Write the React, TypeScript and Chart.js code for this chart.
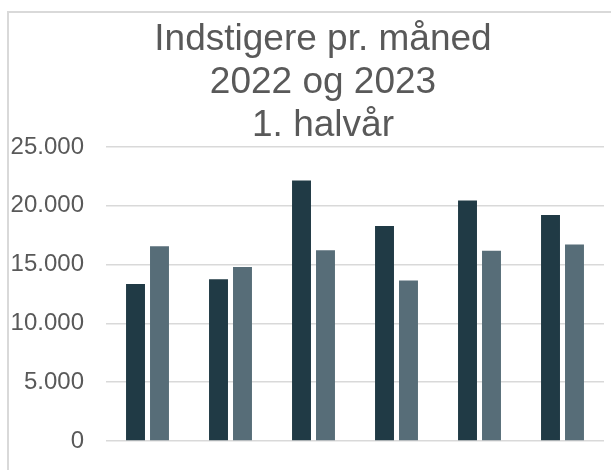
import React, { useEffect, useRef } from "react";
import { Chart, registerables } from "chart.js";

Chart.register(...registerables);

const months = ["Januar", "Februar", "Marts", "April", "Maj", "Juni"];
const values2022 = [13350, 13750, 22150, 18280, 20460, 19210];
const values2023 = [16550, 14800, 16230, 13640, 16170, 16710];
const titleLines = ["Indstigere pr. måned", "2022 og 2023", "1. halvår"];

const FONT = "'Liberation Sans', Arial, sans-serif";
const fmt = (v: number) => String(v).replace(/\B(?=(\d{3})+(?!\d))/g, ".");

const framePlugin = {
  id: "frameAndTitle",
  beforeDraw(chart: any) {
    const ctx = chart.ctx;
    ctx.save();
    ctx.fillStyle = "#d9d9d9";
    ctx.fillRect(7, 11, 2, chart.height - 11);
    ctx.fillRect(7, 11, chart.width - 7, 2);
    ctx.fillStyle = "#595959";
    ctx.font = `37px ${FONT}`;
    ctx.textAlign = "center";
    ctx.textBaseline = "alphabetic";
    titleLines.forEach((line, i) => {
      ctx.fillText(line, 323, 50 + i * 43);
    });
    ctx.restore();
  },
};

export default function App() {
  const ref = useRef<HTMLCanvasElement>(null);
  useEffect(() => {
    if (!ref.current) return;
    const chart = new Chart(ref.current, {
      type: "bar",
      data: {
        labels: months,
        datasets: [
          { label: "2022", data: values2022, backgroundColor: "#203a45" },
          { label: "2023", data: values2023, backgroundColor: "#576d78" },
        ],
      },
      options: {
        responsive: false,
        animation: false,
        layout: { padding: { left: 0, right: 7, top: 147, bottom: 29 } },
        datasets: {
          bar: { categoryPercentage: 0.578, barPercentage: 0.79 },
        },
        plugins: {
          legend: { display: false },
          tooltip: { enabled: false },
          title: { display: false },
        },
        scales: {
          x: { display: false },
          y: {
            min: 0,
            max: 25000,
            afterFit: (scale: any) => {
              scale.width = 106;
              scale.paddingTop = 0;
              scale.paddingBottom = 0;
            },
            ticks: {
              stepSize: 5000,
              padding: 22,
              color: "#595959",
              font: { family: FONT, size: 24 },
              callback: (v: any) => fmt(Number(v)),
            },
            grid: { color: "#d9d9d9", lineWidth: 1.5, drawTicks: false },
            border: { display: false },
          },
        },
      },
      plugins: [framePlugin],
    });
    return () => chart.destroy();
  }, []);
  return (
    <div style={{ position: "fixed", left: 0, top: 0, width: 611, height: 470, background: "#fff" }}>
      <canvas ref={ref} width={611} height={470} style={{ display: "block" }} />
    </div>
  );
}
